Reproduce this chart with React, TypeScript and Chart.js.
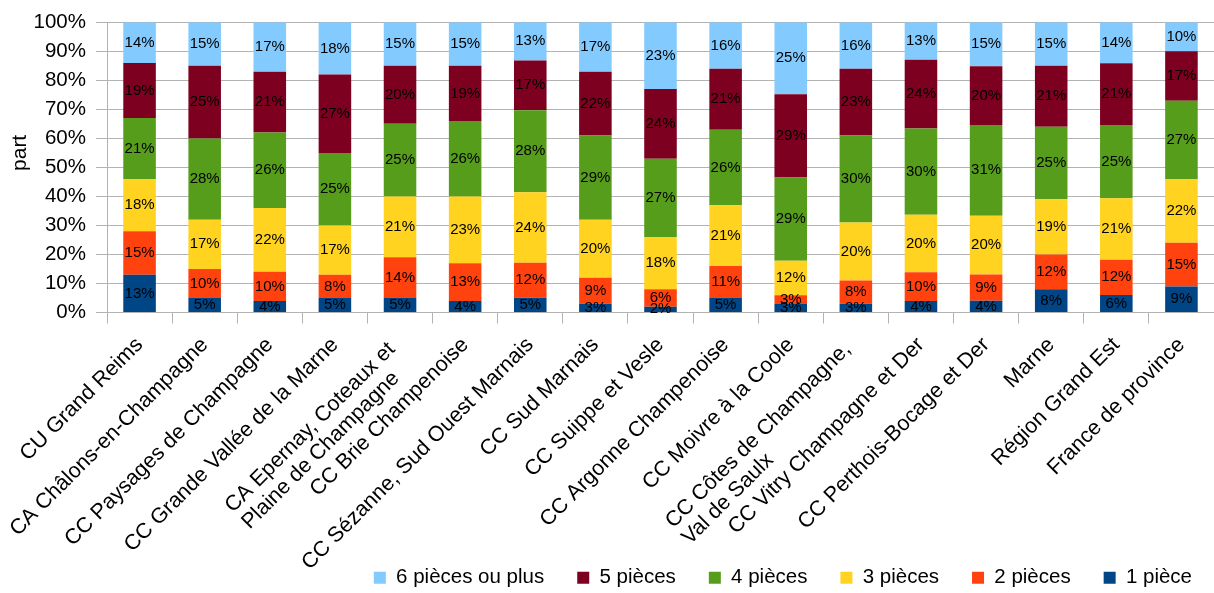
import { useEffect, useRef } from 'react';
import { Chart, registerables } from 'chart.js';

Chart.register(...registerables);

// Territories (x axis); two-line names are given as arrays
const categories: (string | string[])[] = [
  'CU Grand Reims',
  'CA Châlons-en-Champagne',
  'CC Paysages de Champagne',
  'CC Grande Vallée de la Marne',
  ['CA Epernay, Coteaux et', 'Plaine de Champagne'],
  'CC Brie Champenoise',
  'CC Sézanne, Sud Ouest Marnais',
  'CC Sud Marnais',
  'CC Suippe et Vesle',
  'CC Argonne Champenoise',
  'CC Moivre à la Coole',
  ['CC Côtes de Champagne,', 'Val de Saulx'],
  'CC Vitry Champagne et Der',
  'CC Perthois-Bocage et Der',
  'Marne',
  'Région Grand Est',
  'France de province',
];

// Share of dwellings by number of rooms (%), one value per territory
const onePiece = [13, 5, 4, 5, 5, 4, 5, 3, 2, 5, 3, 3, 4, 4, 8, 6, 9];
const twoPieces = [15, 10, 10, 8, 14, 13, 12, 9, 6, 11, 3, 8, 10, 9, 12, 12, 15];
const threePieces = [18, 17, 22, 17, 21, 23, 24, 20, 18, 21, 12, 20, 20, 20, 19, 21, 22];
const fourPieces = [21, 28, 26, 25, 25, 26, 28, 29, 27, 26, 29, 30, 30, 31, 25, 25, 27];
const fivePieces = [19, 25, 21, 27, 20, 19, 17, 22, 24, 21, 29, 23, 24, 20, 21, 21, 17];
const sixPlus = [14, 15, 17, 18, 15, 15, 13, 17, 23, 16, 25, 16, 13, 15, 15, 14, 10];

const seriesNames = ['1 pièce', '2 pièces', '3 pièces', '4 pièces', '5 pièces', '6 pièces ou plus'];
const seriesValues = [onePiece, twoPieces, threePieces, fourPieces, fivePieces, sixPlus];
const seriesColors = ['#004586', '#FF420E', '#FFD320', '#579D1C', '#7E0021', '#83CAFF'];

const yTicks = [0, 10, 20, 30, 40, 50, 60, 70, 80, 90, 100];
const yTitle = 'part';

const FONT = '"Liberation Sans", Arial, sans-serif';
const GRID = '#b3b3b3';
const CATEGORY_FONT_SIZE = 21.5;
const CATEGORY_LINE_HEIGHT = 23.5;

// Percent labels centred in each stacked segment
const segmentLabels = {
  id: 'segmentLabels',
  afterDatasetsDraw(chart: any) {
    const { ctx } = chart;
    ctx.save();
    ctx.font = `15px ${FONT}`;
    ctx.fillStyle = '#000';
    ctx.textAlign = 'center';
    ctx.textBaseline = 'middle';
    chart.data.datasets.forEach((_ds: any, di: number) => {
      const meta = chart.getDatasetMeta(di);
      meta.data.forEach((bar: any, i: number) => {
        const { x, y, base } = bar.getProps(['x', 'y', 'base'], true);
        ctx.fillText(`${seriesValues[di][i]}%`, x, (y + base) / 2);
      });
    });
    ctx.restore();
  },
};

// Category names at 45°, the end of each block at its tick;
// lines of a two-line name are left-aligned inside the block
const categoryLabels = {
  id: 'categoryLabels',
  afterDraw(chart: any) {
    const scale = chart.scales.x;
    const { ctx } = chart;
    ctx.save();
    ctx.font = `${CATEGORY_FONT_SIZE}px ${FONT}`;
    ctx.fillStyle = '#000';
    ctx.textAlign = 'left';
    ctx.textBaseline = 'middle';
    categories.forEach((label, i) => {
      const lines = Array.isArray(label) ? label : [label];
      const blockWidth = Math.max(...lines.map((l) => ctx.measureText(l).width));
      const px = scale.getPixelForTick(i);
      ctx.save();
      ctx.translate(px, scale.top + 29 + (lines.length - 1) * 13);
      ctx.rotate(-Math.PI / 4);
      lines.forEach((line, k) => {
        ctx.fillText(line, -blockWidth, (k - (lines.length - 1) / 2) * CATEGORY_LINE_HEIGHT);
      });
      ctx.restore();
    });
    ctx.restore();
  },
};

// Vertical axis title, set a little above the middle of the plot
const axisTitle = {
  id: 'axisTitle',
  afterDraw(chart: any) {
    const { ctx, chartArea } = chart;
    ctx.save();
    ctx.font = `21px ${FONT}`;
    ctx.fillStyle = '#000';
    ctx.textAlign = 'center';
    ctx.textBaseline = 'middle';
    ctx.translate(20, chartArea.top + chartArea.height * 0.45);
    ctx.rotate(-Math.PI / 2);
    ctx.fillText(yTitle, 0, 0);
    ctx.restore();
  },
};

// Nudge the legend block toward the lower right corner
const legendOffset = {
  id: 'legendOffset',
  afterLayout(chart: any) {
    const lg = chart.legend;
    if (!lg) return;
    lg.left += 11;
    lg.right += 11;
    lg.top += 5;
    lg.bottom += 5;
  },
};

export default function App() {
  const canvasRef = useRef<HTMLCanvasElement>(null);

  useEffect(() => {
    if (!canvasRef.current) return;
    const totals = categories.map((_, i) =>
      seriesValues.reduce((sum, values) => sum + values[i], 0)
    );

    const chart = new Chart(canvasRef.current, {
      type: 'bar',
      data: {
        labels: categories,
        datasets: seriesNames.map((name, di) => ({
          label: name,
          // 100 % stacking: each column is scaled to its own total
          data: seriesValues[di].map((v, i) => (v / totals[i]) * 100),
          backgroundColor: seriesColors[di],
          borderWidth: 0,
          categoryPercentage: 0.5,
          barPercentage: 1,
        })),
      },
      options: {
        responsive: false,
        animation: false,
        layout: { padding: { top: 19, left: 0, right: 0, bottom: 0 } },
        plugins: {
          tooltip: { enabled: false },
          legend: {
            position: 'bottom',
            align: 'end',
            reverse: true,
            labels: {
              boxWidth: 12,
              boxHeight: 12,
              padding: 33,
              color: '#000',
              font: { family: FONT, size: 20.5 },
            },
          },
        },
        scales: {
          x: {
            stacked: true,
            offset: true,
            grid: {
              display: true,
              offset: true,
              drawOnChartArea: false,
              drawTicks: true,
              tickLength: 11,
              color: GRID,
            },
            border: { display: true, color: GRID },
            ticks: { display: false, autoSkip: false },
            afterFit: (scale: any) => {
              scale.height = 217;
            },
          },
          y: {
            stacked: true,
            min: 0,
            max: 100,
            afterBuildTicks: (scale: any) => {
              scale.ticks = yTicks.map((v) => ({ value: v }));
            },
            grid: { color: GRID, tickLength: 11, drawTicks: true },
            border: { display: true, color: GRID },
            ticks: {
              padding: 10,
              color: '#000',
              font: { family: FONT, size: 20.5 },
              callback: (v: any) => `${v}%`,
            },
            title: { display: false, text: yTitle },
            afterFit: (scale: any) => {
              scale.width = 107;
            },
          },
        },
      },
      plugins: [segmentLabels, categoryLabels, axisTitle, legendOffset],
    });

    return () => chart.destroy();
  }, []);

  return (
    <div style={{ position: 'fixed', left: 0, top: 0, width: 1214, height: 593, background: '#fff' }}>
      <canvas ref={canvasRef} width={1214} height={593} style={{ display: 'block' }} />
    </div>
  );
}
